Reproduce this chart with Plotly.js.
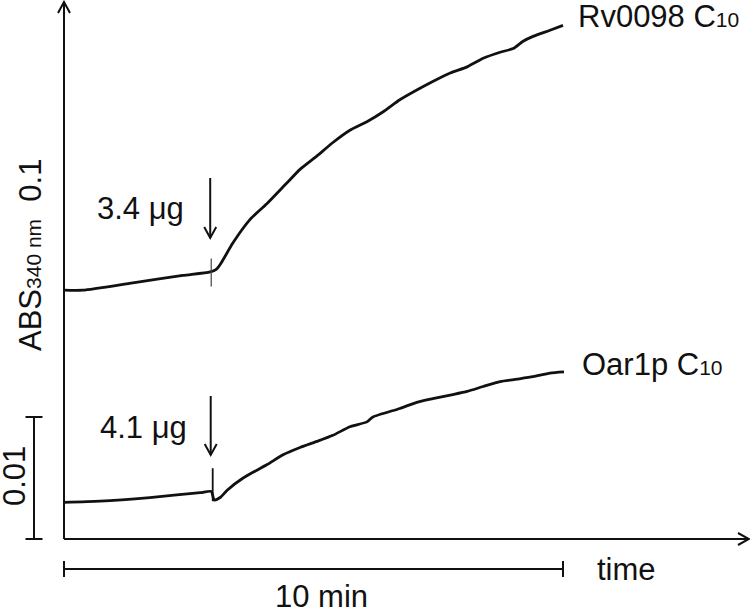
<!DOCTYPE html>
<html>
<head>
<meta charset="utf-8">
<script src="https://cdn.plot.ly/plotly-3.0.1.min.js"></script>
<style>html,body{margin:0;padding:0;background:#fff;}#chart{width:750px;height:609px;}</style>
</head>
<body>
<div id="chart"></div>
<script>
// Rv0098 C10 trace (time in min, absorbance at 340 nm, relative)
var rvTime = [0, 0.38, 1.38, 2.38, 2.93, 3.05, 3.13, 3.39, 3.73, 4.07, 4.47, 4.73, 5.07, 5.39, 5.73, 6.07, 6.39, 6.73, 7.07, 7.39, 7.74, 8.08, 8.40, 8.74, 9.00, 9.20, 9.40, 9.74, 10.00];
var rvAbs  = [0.0204, 0.0204, 0.0210, 0.0216, 0.0219, 0.0221, 0.0225, 0.0243, 0.0262, 0.0275, 0.0292, 0.0303, 0.0314, 0.0325, 0.0335, 0.0342, 0.0350, 0.0360, 0.0368, 0.0375, 0.0382, 0.0387, 0.0394, 0.0399, 0.0402, 0.0408, 0.0412, 0.0417, 0.0421];
// injection artefact on the Rv0098 trace
var rvSpikeTime = [2.95, 2.95];
var rvSpikeAbs  = [0.0230, 0.0207];
// Oar1p C10 trace
var oarTime = [0, 0.72, 1.72, 2.73, 2.95, 3.01, 3.13, 3.27, 3.59, 4.07, 4.39, 4.73, 5.07, 5.39, 5.73, 6.07, 6.19, 6.73, 7.07, 7.39, 7.74, 8.08, 8.40, 8.74, 9.08, 9.40, 9.74, 10.02];
var oarAbs  = [0.0030, 0.0031, 0.0034, 0.0038, 0.0039, 0.0032, 0.0034, 0.0040, 0.0050, 0.0061, 0.0069, 0.0075, 0.0080, 0.0085, 0.0092, 0.0096, 0.0100, 0.0107, 0.0112, 0.0115, 0.0118, 0.0121, 0.0125, 0.0129, 0.0131, 0.0133, 0.0136, 0.0137];
// injection artefact on the Oar1p trace
var oarSpikeTime = [2.98, 2.98];
var oarSpikeAbs  = [0.0058, 0.0031];
// labels
var seriesLabels = ["Rv0098 C<span style='font-size:21px'>10</span>", "Oar1p C<span style='font-size:21px'>10</span>"];
var doseLabels = ["3.4 \u03bcg", "4.1 \u03bcg"];
var injectTime = 2.93;
var timeBar = 10;      // min
var absBar = 0.01;     // absorbance units

var PXMIN = 49.9, PXABS = 12200; // pixel scale of the drawing
function dx(p){ return p / PXMIN; }
function dy(p){ return p / PXABS; }

var xr = [-64 / PXMIN, 686 / PXMIN];
var yr = [-70 / PXABS, 539 / PXABS];

var black = '#111';
var font = {family: 'Liberation Sans, Arial, sans-serif', size: 31, color: black};

function seg(x0, y0, x1, y1, w){
  return {type:'line', xref:'x', yref:'y', x0:x0, y0:y0, x1:x1, y1:y1, line:{color:black, width:w||2}};
}
function vhead(xt, yt, dir){ // open V arrowhead
  var a = 6, b = 11;
  var p;
  if (dir === 'up') p = 'M'+(xt-dx(a))+','+(yt-dy(b))+' L'+xt+','+yt+' L'+(xt+dx(a))+','+(yt-dy(b));
  else if (dir === 'down') p = 'M'+(xt-dx(a))+','+(yt+dy(b))+' L'+xt+','+yt+' L'+(xt+dx(a))+','+(yt+dy(b));
  else p = 'M'+(xt-dx(b))+','+(yt+dy(a))+' L'+xt+','+yt+' L'+(xt-dx(b))+','+(yt-dy(a));
  return {type:'path', xref:'x', yref:'y', path:p, line:{color:black, width:2}};
}

var yTop = yr[1] - dy(2);
var xRight = xr[1] - dx(1);
var barY = -dy(30);
var vbarX = -dx(30);

var shapes = [
  seg(0, 0, 0, yTop), vhead(0, yTop, 'up'),
  seg(0, 0, xRight, 0), vhead(xRight, 0, 'right'),
  seg(0, barY, timeBar, barY), seg(0, barY - dy(8), 0, barY + dy(8)), seg(timeBar, barY - dy(8), timeBar, barY + dy(8)),
  seg(vbarX, 0, vbarX, absBar), seg(vbarX - dx(8.5), 0, vbarX + dx(8.5), 0), seg(vbarX - dx(8.5), absBar, vbarX + dx(8.5), absBar),
  seg(injectTime, dy(539-178), injectTime, dy(539-238)), vhead(injectTime, dy(539-238), 'down'),
  seg(injectTime + dx(0.5), dy(539-396), injectTime + dx(0.5), dy(539-455)), vhead(injectTime + dx(0.5), dy(539-455), 'down')
];

var annotations = [
  {text: seriesLabels[0], x: rvTime[rvTime.length-1] + dx(13), y: rvAbs[rvAbs.length-1] + dy(9), xanchor:'left', yanchor:'middle'},
  {text: seriesLabels[1], x: oarTime[oarTime.length-1] + dx(16), y: oarAbs[oarAbs.length-1] + dy(7), xanchor:'left', yanchor:'middle'},
  {text: doseLabels[0], x: injectTime - dx(24), y: dy(539-208), xanchor:'right', yanchor:'middle'},
  {text: doseLabels[1], x: injectTime - dx(21), y: dy(539-427), xanchor:'right', yanchor:'middle'},
  {text: 'time', x: timeBar + dx(32), y: barY, xanchor:'left', yanchor:'middle'},
  {text: timeBar + ' min', x: timeBar/2 + dx(8), y: dy(539-596), xanchor:'center', yanchor:'middle'},
  {text: 'ABS<span style="font-size:21px">340 nm</span>  0.1', x: -dx(34), y: dy(539-255), textangle:-90, xanchor:'center', yanchor:'middle'},
  {text: absBar.toString(), x: -dx(50), y: absBar/2 + dy(2), textangle:-90, xanchor:'center', yanchor:'middle'}
].map(function(a){ a.xref='x'; a.yref='y'; a.showarrow=false; a.font=font; return a; });

var traces = [
  {x: rvTime, y: rvAbs, mode:'lines', line:{color:black, width:2.8, shape:'spline', smoothing:0.6}, hoverinfo:'skip'},
  {x: rvSpikeTime, y: rvSpikeAbs, mode:'lines', line:{color:'#444', width:1.2}, hoverinfo:'skip'},
  {x: oarTime, y: oarAbs, mode:'lines', line:{color:black, width:2.8, shape:'spline', smoothing:0.6}, hoverinfo:'skip'},
  {x: oarSpikeTime, y: oarSpikeAbs, mode:'lines', line:{color:black, width:1.8}, hoverinfo:'skip'}
];

var layout = {
  width: 750, height: 609,
  margin: {l:0, r:0, t:0, b:0},
  paper_bgcolor: '#fff', plot_bgcolor: '#fff',
  showlegend: false,
  xaxis: {range: xr, visible: false, fixedrange: true},
  yaxis: {range: yr, visible: false, fixedrange: true},
  shapes: shapes,
  annotations: annotations,
  font: font
};

Plotly.newPlot('chart', traces, layout, {staticPlot: true});
</script>
</body>
</html>
